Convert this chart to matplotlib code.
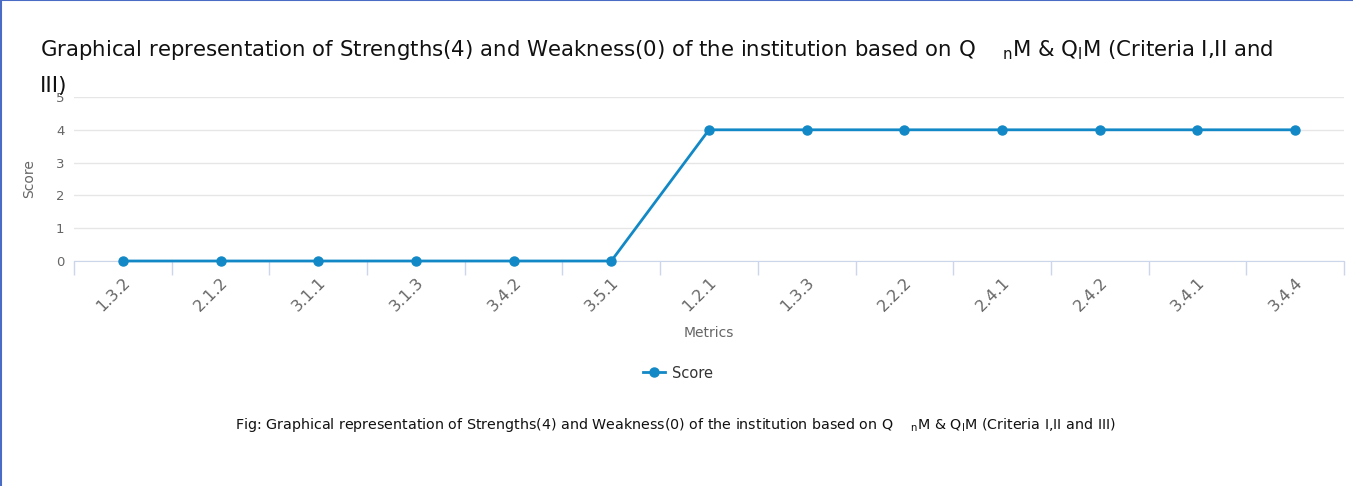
import matplotlib.pyplot as plt
from matplotlib.lines import Line2D

metrics = ["1.3.2", "2.1.2", "3.1.1", "3.1.3", "3.4.2", "3.5.1",
           "1.2.1", "1.3.3", "2.2.2", "2.4.1", "2.4.2", "3.4.1", "3.4.4"]
scores = [0, 0, 0, 0, 0, 0, 4, 4, 4, 4, 4, 4, 4]
y_ticks = [0, 1, 2, 3, 4, 5]

W, H = 1353, 486
LINE = "#1289c6"
plt.rcParams["font.family"] = "DejaVu Sans"

fig = plt.figure(figsize=(W / 100, H / 100), dpi=100)
ax = fig.add_axes([74 / W, 1 - 261 / H, (1344 - 74) / W, (261 - 97) / H])

x = list(range(len(metrics)))
ax.plot(x, scores, color=LINE, lw=2, marker="o", ms=6.5, clip_on=False, zorder=3)

ax.set_xlim(-0.5, len(metrics) - 0.5)
ax.set_ylim(0, 5)
ax.set_yticks(y_ticks)
ax.set_yticklabels([str(v) for v in y_ticks], color="#666666", fontsize=9.5)
ax.tick_params(axis="y", length=0, pad=7)
ax.grid(axis="y", color="#e6e6e6", lw=1)
ax.set_axisbelow(True)

# category labels at centers, tick marks at band edges
ax.set_xticks(x)
ax.set_xticklabels(metrics, rotation=45, ha="right", rotation_mode="anchor",
                   color="#666666", fontsize=11.5)
ax.tick_params(axis="x", length=0, pad=10)
ax.set_xticks([i - 0.5 for i in range(len(metrics) + 1)], minor=True)
ax.tick_params(axis="x", which="minor", length=10, color="#ccd6eb", width=1)

for s in ["top", "right", "left"]:
    ax.spines[s].set_visible(False)
ax.spines["bottom"].set_color("#ccd6eb")

ax.set_ylabel("Score", color="#666666", fontsize=10, labelpad=14)
ax.set_xlabel("Metrics", color="#666666", fontsize=10, labelpad=8)

# title (two lines, left aligned)
fig.text(40 / W, 1 - 50 / H,
         r"Graphical representation of Strengths(4) and Weakness(0) of the institution based on Q    $_{\mathrm{n}}$M & Q$_{\mathrm{l}}$M (Criteria I,II and",
         fontsize=15.3, color="#111111", va="center", ha="left")
fig.text(40 / W, 1 - 86 / H, "III)", fontsize=15.3, color="#111111", va="center", ha="left")

# legend
handle = Line2D([0], [0], color=LINE, lw=2, marker="o", ms=6.5)
fig.legend([handle], ["Score"], loc="center", bbox_to_anchor=(678 / W, 1 - 373 / H),
           frameon=False, fontsize=10.5, handlelength=1.5, handletextpad=0.5,
           labelcolor="#333333")

# caption
fig.text(675 / W, 1 - 425 / H,
         r"Fig: Graphical representation of Strengths(4) and Weakness(0) of the institution based on Q    $_{\mathrm{n}}$M & Q$_{\mathrm{l}}$M (Criteria I,II and III)",
         fontsize=10.3, color="#111111", va="center", ha="center")

# page border on left and top
fig.add_artist(Line2D([0.5 / W, 0.5 / W], [0, 1], color="#4a6cc4", lw=1.5))
fig.add_artist(Line2D([0, 1], [1 - 0.5 / H, 1 - 0.5 / H], color="#4a6cc4", lw=1.5))

fig.savefig("out.png", dpi=100)
